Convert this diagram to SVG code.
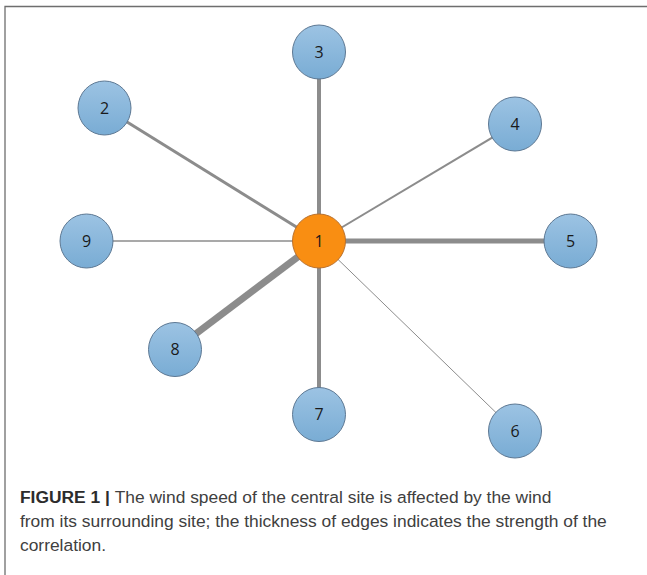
<svg xmlns="http://www.w3.org/2000/svg" width="647" height="575" viewBox="0 0 647 575">
<defs>
<linearGradient id="blue" x1="0" y1="0" x2="0" y2="1">
<stop offset="0" stop-color="#9cc3e3"/>
<stop offset="1" stop-color="#79acd4"/>
</linearGradient>
<style>
.frame{fill:none;stroke:#6e6e6e;stroke-width:1.3}
.e{stroke:#8c8c8c;stroke-linecap:butt}
.n{fill:url(#blue);stroke:#5d7893;stroke-width:1}
.c{fill:#f98e12;stroke:#b9712e;stroke-width:1}
.lbl{font-family:"Open Sans","Liberation Sans",sans-serif;font-size:16px;fill:#1a1a1a;text-anchor:middle}
.cap{font-family:"Liberation Sans",Arial,sans-serif;font-size:17.4px;fill:#404040}
.capb{font-weight:bold;fill:#2c2c2c}
</style>
</defs>
<rect width="647" height="575" fill="#ffffff"/>
<path class="frame" d="M647 6.5 H5 V575"/>
<g id="connectors">
<line class="e" x1="319" y1="241" x2="104.5" y2="108" stroke-width="3"/>
<line class="e" x1="319" y1="241" x2="319" y2="52" stroke-width="4"/>
<line class="e" x1="319" y1="241" x2="515" y2="124" stroke-width="2"/>
<line class="e" x1="319" y1="241" x2="570.5" y2="241" stroke-width="5"/>
<line class="e" x1="319" y1="241" x2="515" y2="431" stroke-width="1" stroke="#cacaca"/>
<line class="e" x1="319" y1="241" x2="319" y2="414.5" stroke-width="4"/>
<line class="e" x1="319" y1="241" x2="175" y2="349.5" stroke-width="7"/>
<line class="e" x1="319" y1="241" x2="86.5" y2="241" stroke-width="1.5" stroke="#c6c6c6"/>
</g>
<g id="node2"><ellipse class="n" cx="104.5" cy="108" rx="26.5" ry="27"/><text class="lbl" x="104.5" y="113.5">2</text></g>
<g id="node3"><ellipse class="n" cx="319" cy="52" rx="26.5" ry="27"/><text class="lbl" x="319" y="57.5">3</text></g>
<g id="node4"><ellipse class="n" cx="515" cy="124" rx="26.5" ry="27"/><text class="lbl" x="515" y="129.5">4</text></g>
<g id="node5"><ellipse class="n" cx="570.5" cy="241" rx="26.5" ry="27"/><text class="lbl" x="570.5" y="246.5">5</text></g>
<g id="node6"><ellipse class="n" cx="515" cy="431" rx="26.5" ry="27"/><text class="lbl" x="515" y="436.5">6</text></g>
<g id="node7"><ellipse class="n" cx="319" cy="414.5" rx="26.5" ry="27"/><text class="lbl" x="319" y="420">7</text></g>
<g id="node8"><ellipse class="n" cx="175" cy="349.5" rx="26.5" ry="27"/><text class="lbl" x="175" y="355">8</text></g>
<g id="node9"><ellipse class="n" cx="86.5" cy="241" rx="26.5" ry="27"/><text class="lbl" x="86.5" y="246.5">9</text></g>
<g id="node1"><ellipse class="c" cx="319" cy="241" rx="26.5" ry="27"/><text class="lbl" x="319" y="246.5">1</text></g>
<g id="caption">
<text class="cap" x="20" y="503"><tspan class="capb">FIGURE 1 | </tspan>The wind speed of the central site is affected by the wind</text>
<text class="cap" x="20" y="527">from its surrounding site; the thickness of edges indicates the strength of the</text>
<text class="cap" x="20" y="551">correlation.</text>
</g>
</svg>
